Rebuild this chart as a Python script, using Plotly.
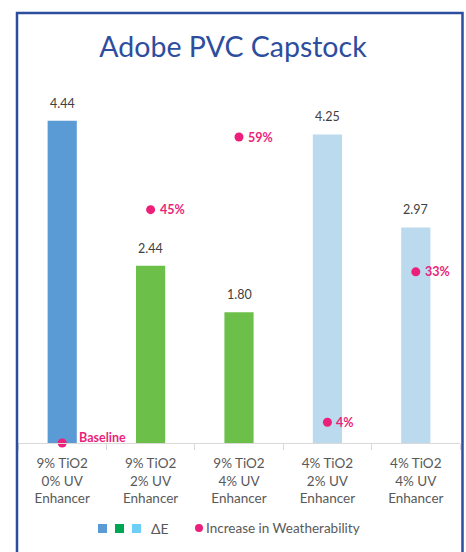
import plotly.graph_objects as go

# Chart data
categories = [
    "9% TiO2<br>0% UV<br>Enhancer",
    "9% TiO2<br>2% UV<br>Enhancer",
    "9% TiO2<br>4% UV<br>Enhancer",
    "4% TiO2<br>2% UV<br>Enhancer",
    "4% TiO2<br>4% UV<br>Enhancer",
]
delta_e = [4.44, 2.44, 1.80, 4.25, 2.97]
weatherability = [0, 45, 59, 4, 33]
weather_labels = ["Baseline", "45%", "59%", "4%", "33%"]

BAR_COLORS = ["#5B9BD5", "#6CC04A", "#6CC04A", "#BBDAEE", "#BBDAEE"]
LEGEND_SQUARES = ["#5B9BD5", "#00A651", "#6DCFF6"]
PINK = "#EC1F7A"
NAVY = "#2D4D9E"
GREY = "#595959"
FONT = "Lato"

W, H = 466, 552
L, R, T, B = 18, 6, 80, 109


def px(x):
    """pixel x -> paper x"""
    return (x - L) / (W - L - R)


def py(y):
    """pixel y -> paper y"""
    return (H - B - y) / (H - T - B)


fig = go.Figure()

fig.add_trace(go.Bar(
    x=categories,
    y=delta_e,
    marker=dict(color=BAR_COLORS, line_width=0),
    showlegend=False,
    hoverinfo="skip",
))

fig.add_trace(go.Scatter(
    x=categories,
    y=weatherability,
    yaxis="y2",
    mode="markers",
    marker=dict(color=PINK, size=9),
    cliponaxis=False,
    showlegend=False,
    hoverinfo="skip",
))

# labels next to the weatherability dots (baseline label nudged off the axis)
for cat, val, lab in zip(categories, weatherability, weather_labels):
    fig.add_annotation(
        x=cat, y=val, yref="y2", text=f"<b>{lab}</b>", showarrow=False,
        xanchor="left", xshift=15 if val == 0 else 7, yshift=6 if val == 0 else 0,
        font=dict(family=FONT, size=12.5, color=PINK),
    )

# value labels above the bars
for cat, val in zip(categories, delta_e):
    fig.add_annotation(
        x=cat, y=val, text=f"{val:.2f}", showarrow=False,
        yanchor="bottom", yshift=8,
        font=dict(family=FONT, size=12.5, color="#404040"),
    )

# outer border
fig.add_shape(
    type="rect", xref="paper", yref="paper",
    x0=px(17), x1=px(462.5), y0=py(13), y1=py(575),
    line=dict(color=NAVY, width=2.5), fillcolor="rgba(0,0,0,0)",
)

# custom legend
legend_y = py(528)
for i, c in enumerate(LEGEND_SQUARES):
    x0 = 98 + i * 17
    fig.add_shape(
        type="rect", xref="paper", yref="paper",
        x0=px(x0), x1=px(x0 + 9), y0=py(533), y1=py(524),
        line_width=0, fillcolor=c,
    )
fig.add_annotation(
    xref="paper", yref="paper", x=px(149), y=legend_y,
    text="ΔE", showarrow=False, xanchor="left", yanchor="middle",
    font=dict(family=FONT, size=14, color=GREY),
)
fig.add_shape(
    type="circle", xref="paper", yref="paper",
    x0=px(195), x1=px(203), y0=py(532), y1=py(524),
    line_width=0, fillcolor=PINK,
)
fig.add_annotation(
    xref="paper", yref="paper", x=px(204), y=legend_y,
    text="Increase in Weatherability", showarrow=False,
    xanchor="left", yanchor="middle",
    font=dict(family=FONT, size=13.5, color=GREY),
)

fig.update_layout(
    width=W, height=H,
    margin=dict(l=L, r=R, t=T, b=B),
    paper_bgcolor="white",
    plot_bgcolor="white",
    bargap=0.67,
    title=dict(
        text="Adobe PVC Capstock",
        font=dict(family=FONT, size=28.5, color=NAVY),
        x=0.5, xanchor="center", y=1 - 47 / H, yanchor="middle",
    ),
    xaxis=dict(
        type="category",
        showline=True, linecolor="#D9D9D9", linewidth=1,
        ticks="outside", tickson="boundaries", ticklen=6, tickcolor="#D9D9D9",
        ticklabelstandoff=8,
        showgrid=False, zeroline=False,
        tickfont=dict(family=FONT, size=13.5, color=GREY),
    ),
    yaxis=dict(range=[0, 5], visible=False),
    yaxis2=dict(range=[0, 70], visible=False, overlaying="y"),
    font=dict(family=FONT),
)

fig.write_html(
    "out.html",
    config={"displayModeBar": False},
    post_script="document.body.style.margin='0';document.body.style.overflow='hidden';",
)
